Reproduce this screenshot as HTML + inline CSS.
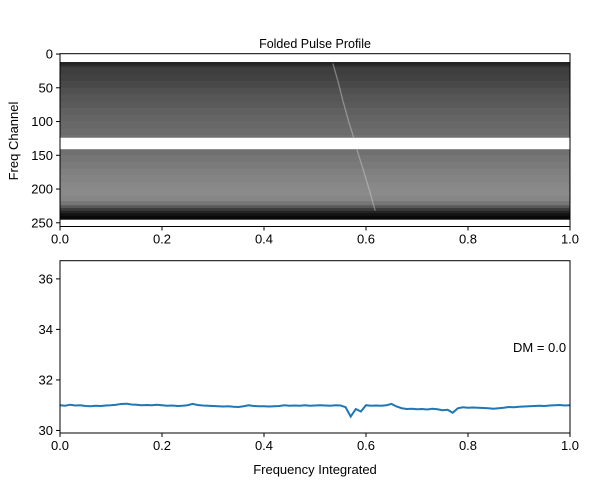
<!DOCTYPE html>
<html><head><meta charset="utf-8"><style>
body{margin:0;background:#fff;}
svg{display:block;font-family:"Liberation Sans","DejaVu Sans",sans-serif;}
</style></head><body>
<svg id="fig" width="600" height="485" viewBox="0 0 600 485">
<defs>
<linearGradient id="bandTop" x1="0" y1="0" x2="0" y2="1">
<stop offset="0" stop-color="#1a1a1a"/><stop offset="1" stop-color="#1a1a1a" stop-opacity="0"/>
</linearGradient>
</defs>
<text x="315" y="48" font-size="12.5" text-anchor="middle">Folded Pulse Profile</text>
<g id="topPanel"></g>
<g id="bottomPanel"></g>
<text x="315" y="474" font-size="13" text-anchor="middle">Frequency Integrated</text>
<text x="18" y="141" font-size="13" text-anchor="middle" transform="rotate(-90 18 141)">Freq Channel</text>
<text x="513" y="352" font-size="13">DM = 0.0</text>
</svg>
<script>
// Waterfall data: channel start of each row band and its gray level (0-255)
const rowChannels = [12,20,30,40,50,60,70,80,90,100,110,120,124,141,150,160,170,180,190,200,210,218,224,228,232,236,240,245];
const rowGray =     [55,62,66,72,80,86,90,96,100,104,108,112,255,112,118,122,128,132,136,138,134,118,90,60,35,18,8,255];
// Pulse track: frequency channel -> phase
const pulseChannels = [14,40,70,100,124,141,170,200,232];
const pulsePhase    = [0.535,0.545,0.555,0.566,0.576,0.582,0.594,0.606,0.618];
const xTicks = [0,0.2,0.4,0.6,0.8,1.0];
const xTickLabels = ["0.0","0.2","0.4","0.6","0.8","1.0"];
const topYTicks = [0,50,100,150,200,250];
const botYTicks = [30,32,34,36];
// Integrated profile values at phase 0.00..1.00 step 0.01
const profile = [31.0,30.98,31.02,30.99,31.0,30.97,30.96,30.98,30.97,30.99,31.0,
31.02,31.05,31.06,31.03,31.02,31.0,31.01,31.0,31.02,31.0,
30.98,30.99,30.97,30.98,31.0,31.05,31.01,30.99,30.98,30.97,
30.96,30.95,30.96,30.94,30.93,30.96,31.0,30.97,30.96,30.96,
30.95,30.96,30.97,31.0,30.98,30.99,30.98,31.0,30.98,30.99,
31.0,30.99,30.98,31.0,30.99,30.92,30.55,30.85,30.75,31.0,
30.98,30.99,30.98,31.0,31.05,30.95,30.88,30.85,30.86,30.84,
30.85,30.83,30.86,30.84,30.80,30.82,30.7,30.88,30.92,30.9,
30.91,30.9,30.89,30.88,30.86,30.88,30.9,30.93,30.92,30.94,
30.95,30.96,30.97,30.98,30.97,30.99,31.0,31.01,30.99,31.0];

const NS="http://www.w3.org/2000/svg";
function mk(parent,tag,attrs){const e=document.createElementNS(NS,tag);for(const k in attrs)e.setAttribute(k,attrs[k]);parent.appendChild(e);return e;}
const X0=60,X1=570;
const xs=v=>X0+v*(X1-X0);
const TT=53.7,TB=226.5;
const ty=c=>TT+(c+0.5)/256*(TB-TT);
const BT=260.7,BB=433,YMIN=29.9,YMAX=36.72;
const by=v=>BB-(v-YMIN)/(YMAX-YMIN)*(BB-BT);

const topG=document.getElementById('topPanel');
for(let i=0;i<rowChannels.length-1;i++){
  const g=rowGray[i];
  const r=mk(topG,'rect',{x:X0,y:ty(rowChannels[i]),width:X1-X0,height:ty(rowChannels[i+1])-ty(rowChannels[i])+0.3,fill:`rgb(${g},${g},${g})`});
  
  
}
const lr=mk(topG,'rect',{x:X0,y:ty(12),width:X1-X0,height:5,fill:'url(#bandTop)'});


function track(from,to){
  let pts=[];
  for(let i=0;i<pulseChannels.length;i++){if(pulseChannels[i]>=from&&pulseChannels[i]<=to)pts.push(xs(pulsePhase[i])+','+ty(pulseChannels[i]));}
  const p=mk(topG,'polyline',{points:pts.join(' '),fill:'none',stroke:'#d0d0d0','stroke-width':1.3,'stroke-opacity':0.45});
  
  
}
track(0,124);track(141,232);
function axes(g,T,B){
  const f=mk(g,'rect',{x:X0,y:T,width:X1-X0,height:B-T,fill:'none',stroke:'#000','stroke-width':1});
  
  
  xTicks.forEach((v,i)=>{
    mk(g,'line',{x1:xs(v),x2:xs(v),y1:B,y2:B+4,stroke:'#000'});
    const t=mk(g,'text',{x:xs(v),y:B+17,'font-size':13,'text-anchor':'middle'});
    t.textContent=xTickLabels[i];
    
    
  });
}
axes(topG,TT,TB);
topYTicks.forEach(v=>{
  mk(topG,'line',{x1:X0-4,x2:X0,y1:ty(v),y2:ty(v),stroke:'#000'});
  const t=mk(topG,'text',{x:X0-7,y:ty(v)+4.5,'font-size':13,'text-anchor':'end'});
  t.textContent=v;
  
  
});
const botG=document.getElementById('bottomPanel');
const pts=profile.map((v,i)=>xs(i/(profile.length-1))+','+by(v)).join(' ');
const line=mk(botG,'polyline',{points:pts,fill:'none',stroke:'#1f77b4','stroke-width':2});


axes(botG,BT,BB);
botYTicks.forEach(v=>{
  mk(botG,'line',{x1:X0-4,x2:X0,y1:by(v),y2:by(v),stroke:'#000'});
  const t=mk(botG,'text',{x:X0-7,y:by(v)+4.5,'font-size':13,'text-anchor':'end'});
  t.textContent=v;
  
  
});
</script>
</body></html>
